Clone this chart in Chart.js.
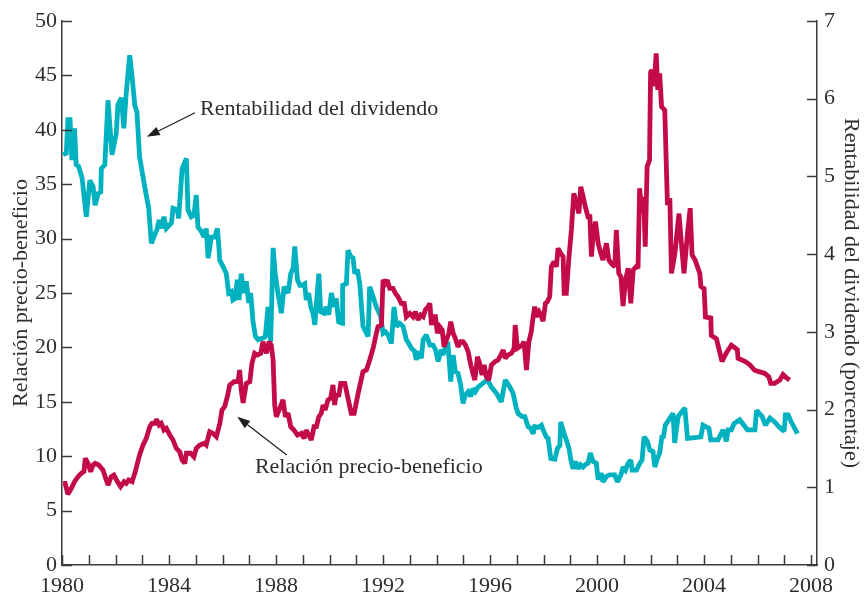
<!DOCTYPE html>
<html>
<head>
<meta charset="utf-8">
<script src="https://cdn.jsdelivr.net/npm/chart.js@4.4.1/dist/chart.umd.min.js"></script>
<style>
  html, body { margin: 0; padding: 0; background: #ffffff; }
  #c { display: block; }
</style>
</head>
<body>
<canvas id="c" width="864" height="593"></canvas>
<script>
// Relación precio-beneficio (left axis)
const peYears = [
  1980.04,1980.12,1980.22,1980.35,1980.47,1980.60,1980.72,1980.82,1980.87,1980.97,
  1981.07,1981.16,1981.24,1981.37,1981.53,1981.72,1981.84,1981.94,1982.07,1982.19,
  1982.32,1982.40,1982.49,1982.62,1982.74,1982.90,1983.03,1983.15,1983.28,1983.36,
  1983.47,1983.53,1983.63,1983.71,1983.81,1983.90,1984.03,1984.15,1984.27,1984.40,
  1984.49,1984.59,1984.65,1984.81,1984.93,1985.02,1985.15,1985.31,1985.39,1985.52,
  1985.64,1985.77,1985.90,1985.98,1986.08,1986.18,1986.27,1986.36,1986.43,1986.58,
  1986.64,1986.70,1986.77,1986.89,1987.02,1987.10,1987.20,1987.30,1987.43,1987.51,
  1987.64,1987.74,1987.82,1987.89,1987.95,1988.01,1988.14,1988.26,1988.35,1988.45,
  1988.55,1988.67,1988.80,1988.95,1989.05,1989.13,1989.22,1989.32,1989.42,1989.51,
  1989.60,1989.69,1989.76,1989.84,1989.94,1990.04,1990.13,1990.19,1990.25,1990.34,
  1990.42,1990.57,1990.69,1990.81,1990.92,1991.07,1991.25,1991.38,1991.50,1991.63,
  1991.75,1991.81,1991.94,1992.00,1992.09,1992.16,1992.25,1992.37,1992.46,1992.56,
  1992.68,1992.79,1992.87,1993.00,1993.12,1993.21,1993.31,1993.41,1993.50,1993.58,
  1993.68,1993.75,1993.81,1993.87,1993.96,1994.03,1994.12,1994.21,1994.28,1994.37,
  1994.46,1994.53,1994.62,1994.70,1994.80,1994.90,1994.99,1995.08,1995.18,1995.28,
  1995.36,1995.43,1995.53,1995.61,1995.70,1995.78,1995.86,1995.95,1996.05,1996.18,
  1996.30,1996.40,1996.49,1996.57,1996.67,1996.80,1996.90,1996.94,1997.02,1997.11,
  1997.20,1997.27,1997.36,1997.45,1997.54,1997.61,1997.67,1997.73,1997.83,1997.90,
  1997.98,1998.07,1998.14,1998.23,1998.29,1998.39,1998.48,1998.54,1998.64,1998.73,
  1998.77,1998.85,1998.94,1999.04,1999.13,1999.23,1999.32,1999.39,1999.48,1999.56,
  1999.66,1999.73,1999.79,1999.85,1999.94,2000.04,2000.14,2000.22,2000.35,2000.44,
  2000.53,2000.66,2000.72,2000.81,2000.89,2000.97,2001.06,2001.16,2001.26,2001.35,
  2001.46,2001.53,2001.59,2001.68,2001.74,2001.80,2001.87,2001.96,2002.00,2002.05,
  2002.13,2002.21,2002.27,2002.34,2002.41,2002.53,2002.63,2002.72,2002.78,2002.91,
  2003.06,2003.15,2003.25,2003.38,2003.48,2003.55,2003.67,2003.84,2003.88,2004.00,
  2004.05,2004.25,2004.27,2004.46,2004.67,2004.83,2005.02,2005.24,2005.27,2005.54,
  2005.71,2005.89,2006.02,2006.27,2006.42,2006.49,2006.64,2006.83,2006.95,2007.08,
  2007.20
];
const peValues = [
  7.5,7.5,6.5,7.05,7.66,8.12,8.43,8.58,9.81,9.35,
  8.58,9.19,9.35,9.19,8.73,7.35,8.12,8.27,7.66,7.2,
  7.66,7.51,7.81,7.66,8.58,10.11,11.03,11.64,12.71,13.02,
  13.02,13.39,12.87,13.02,12.41,12.56,11.95,11.49,10.73,10.41,
  9.65,9.35,10.27,10.27,9.95,10.73,11.03,11.19,11.03,12.25,
  12.1,11.79,13.02,14.25,14.55,15.47,16.54,16.7,16.85,16.85,
  17.92,16.08,14.9,16.7,16.85,18.54,19.46,19.3,19.46,20.52,
  19.46,20.52,20.22,18.84,14.71,13.63,14.4,15.17,13.63,13.94,
  12.71,12.41,11.95,12.1,11.64,12.41,11.95,11.49,12.71,12.71,
  13.63,13.94,14.71,14.25,15.17,15.32,16.54,14.71,15.78,15.47,
  16.7,16.7,15.32,13.94,13.94,15.78,17.77,17.92,18.84,19.92,
  21.3,21.9,22.06,26.2,25.89,26.19,25.43,25.43,24.97,24.66,
  24.05,24.05,22.82,23.13,22.82,23.28,22.52,22.98,22.82,23.44,
  23.74,24.05,22.06,22.82,22.82,21.3,21.9,21.6,20.06,20.68,
  21.3,22.36,21.3,20.84,20.06,20.52,20.52,20.22,19.61,18.38,
  17.62,17.0,19.15,18.54,17.46,18.38,17.31,17.0,18.38,18.69,
  18.84,19.3,19.76,19.0,19.3,19.46,19.92,22.06,19.92,20.06,
  20.22,20.52,17.92,20.52,21.44,22.82,23.74,22.82,23.28,22.98,
  22.4,24.05,24.2,24.66,27.42,27.88,27.42,29.11,28.65,28.34,
  24.97,24.97,28.03,30.79,34.16,33.24,32.32,34.77,33.85,32.93,
  32.01,32.01,28.34,30.18,31.56,29.57,28.65,28.03,29.57,28.03,
  27.73,27.42,30.79,26.81,26.5,23.8,26.19,27.27,24.05,27.11,
  27.42,27.27,34.62,32.32,33.85,29.26,36.61,37.22,45.3,45.5,
  44.0,47.03,43.66,45.19,42.12,41.8,33.1,33.7,26.8,28.65,
  32.3,29.6,26.8,30.5,32.8,28.5,28.0,26.8,25.6,25.4,
  22.8,22.7,21.1,20.8,18.7,19.5,20.2,19.8,19.0,18.7,
  18.4,17.9,17.8,17.6,17.3,16.7,16.7,17.0,17.5,17.2,
  17.0
];

// Rentabilidad del dividendo, % (right axis)
const dyYears = [
  1980.04,1980.16,1980.22,1980.30,1980.37,1980.47,1980.53,1980.62,1980.75,1980.91,
  1981.04,1981.16,1981.24,1981.35,1981.45,1981.47,1981.60,1981.72,1981.87,1982.03,
  1982.09,1982.22,1982.31,1982.40,1982.53,1982.62,1982.72,1982.80,1982.90,1983.09,
  1983.24,1983.34,1983.47,1983.56,1983.63,1983.71,1983.81,1983.90,1984.09,1984.15,
  1984.31,1984.36,1984.49,1984.65,1984.71,1984.83,1984.93,1985.02,1985.08,1985.21,
  1985.31,1985.39,1985.46,1985.58,1985.71,1985.81,1985.90,1986.02,1986.14,1986.23,
  1986.33,1986.39,1986.48,1986.55,1986.62,1986.70,1986.79,1986.89,1986.98,1987.05,
  1987.14,1987.23,1987.33,1987.51,1987.60,1987.70,1987.80,1987.89,1987.97,1988.07,
  1988.20,1988.30,1988.45,1988.55,1988.64,1988.70,1988.80,1988.89,1988.97,1989.07,
  1989.13,1989.22,1989.30,1989.38,1989.45,1989.51,1989.60,1989.67,1989.79,1989.88,
  1989.97,1990.07,1990.17,1990.25,1990.34,1990.47,1990.49,1990.63,1990.69,1990.79,
  1990.88,1990.94,1991.04,1991.13,1991.25,1991.44,1991.50,1991.63,1991.75,1991.91,
  1992.00,1992.09,1992.19,1992.31,1992.41,1992.50,1992.62,1992.75,1992.87,1992.93,
  1993.06,1993.18,1993.24,1993.33,1993.43,1993.50,1993.62,1993.75,1993.87,1993.96,
  1994.06,1994.18,1994.24,1994.33,1994.43,1994.53,1994.62,1994.70,1994.80,1994.90,
  1994.99,1995.08,1995.18,1995.28,1995.36,1995.45,1995.55,1995.67,1995.80,1995.90,
  1996.05,1996.24,1996.42,1996.57,1996.74,1996.86,1996.98,1997.05,1997.20,1997.30,
  1997.42,1997.52,1997.61,1997.67,1997.79,1997.92,1997.98,1998.10,1998.17,1998.27,
  1998.42,1998.52,1998.61,1998.64,1998.77,1998.85,1998.95,1999.02,1999.10,1999.19,
  1999.29,1999.38,1999.48,1999.56,1999.66,1999.75,1999.85,1999.97,2000.04,2000.16,
  2000.22,2000.35,2000.47,2000.66,2000.76,2000.89,2000.97,2001.06,2001.16,2001.26,
  2001.31,2001.47,2001.60,2001.68,2001.76,2001.88,2001.97,2002.09,2002.16,2002.25,
  2002.34,2002.43,2002.47,2002.55,2002.72,2002.84,2002.90,2003.03,2003.28,2003.38,
  2003.65,2003.88,2003.96,2004.18,2004.25,2004.52,2004.71,2004.83,2004.90,2005.02,
  2005.12,2005.33,2005.62,2005.90,2005.96,2006.17,2006.29,2006.46,2006.64,2006.79,
  2006.99,2007.04,2007.14,2007.26,2007.49
];
const dyValues = [
  5.28,5.30,5.73,5.73,5.21,5.62,5.15,5.13,4.98,4.48,
  4.95,4.87,4.63,4.78,4.80,5.10,5.15,5.98,5.28,5.56,
  5.92,6.01,5.62,6.07,6.56,6.28,5.92,5.83,5.25,4.87,
  4.59,4.14,4.25,4.33,4.44,4.33,4.48,4.33,4.40,4.59,
  4.57,4.46,5.10,5.23,4.57,4.48,4.50,4.76,4.35,4.29,
  4.22,4.33,3.95,4.22,4.22,4.33,3.92,3.84,3.75,3.50,
  3.52,3.41,3.43,3.67,3.41,3.75,3.50,3.65,3.37,3.50,
  3.13,2.94,2.90,2.92,2.94,3.32,2.87,4.08,3.75,3.50,
  3.24,3.58,3.50,3.75,3.82,4.10,3.67,3.60,3.60,3.62,
  3.41,3.50,3.32,3.24,3.09,3.37,3.75,3.26,3.24,3.32,
  3.22,3.50,3.32,3.43,3.13,3.11,3.60,3.62,4.05,3.97,
  3.95,3.75,3.80,3.62,3.07,2.94,3.58,3.45,3.32,3.20,
  2.98,3.00,2.96,2.85,3.32,3.07,3.11,3.07,2.90,2.87,
  2.79,2.75,2.64,2.75,2.66,2.90,2.96,2.83,2.83,2.77,
  2.62,2.77,2.70,2.81,2.83,2.36,2.70,2.49,2.47,2.32,
  2.08,2.19,2.23,2.17,2.27,2.23,2.29,2.32,2.36,2.38,
  2.29,2.21,2.10,2.38,2.29,2.21,2.02,1.95,1.91,1.91,
  1.78,1.76,1.69,1.78,1.77,1.80,1.74,1.65,1.63,1.37,
  1.36,1.50,1.54,1.84,1.69,1.61,1.50,1.35,1.24,1.33,
  1.24,1.29,1.26,1.29,1.31,1.44,1.33,1.31,1.10,1.18,
  1.07,1.14,1.16,1.16,1.07,1.16,1.26,1.22,1.31,1.35,
  1.22,1.22,1.31,1.35,1.65,1.59,1.48,1.46,1.26,1.37,
  1.44,1.67,1.63,1.80,1.89,1.95,1.57,1.91,2.02,1.63,
  1.64,1.65,1.80,1.76,1.61,1.61,1.74,1.59,1.74,1.74,
  1.82,1.87,1.74,1.74,1.99,1.91,1.80,1.89,1.84,1.78,
  1.72,1.93,1.93,1.84,1.69
];

// Axis ticks
const xTickYears = [];
for (let y = 1980; y <= 2008; y++) xTickYears.push(y);
const xLabelYears = [1980, 1984, 1988, 1992, 1996, 2000, 2004, 2008];

const RED = '#c30b4b';
const TEAL = '#00b1bf';
const AXIS = '#3b3b3b';
const TEXT = '#2e2e2e';
const FONT = "'Liberation Serif', 'DejaVu Serif', serif";

const pePoints = peYears.map((x, i) => ({ x, y: peValues[i] }));
const dyPoints = dyYears.map((x, i) => ({ x, y: dyValues[i] }));

// Callout labels with arrows, placed in data units of their axis
const callouts = [
  { axis: 'yDY', text: 'Rentabilidad del dividendo', textAt: [1985.16, 5.79], from: [1984.97, 5.82], to: [1983.17, 5.51] },
  { axis: 'yPE', text: 'Relación precio-beneficio', textAt: [1987.21, 8.46], from: [1988.40, 10.11], to: [1986.55, 13.63] }
];

// Keep sharp line corners from overshooting too far
const miterPlugin = {
  id: 'miter',
  beforeDatasetsDraw(chart) { chart.ctx.miterLimit = 2.2; }
};

// Tick marks pointing into the plot area
const inwardTicks = {
  id: 'inwardTicks',
  afterDraw(chart) {
    const { ctx, chartArea: a, scales } = chart;
    const len = 10;
    ctx.save();
    ctx.strokeStyle = AXIS;
    ctx.lineWidth = 1.5;
    ctx.beginPath();
    for (const t of scales.x.ticks) {
      const px = Math.round(scales.x.getPixelForValue(t.value)) + 0.5;
      ctx.moveTo(px, a.bottom);
      ctx.lineTo(px, a.bottom - len);
    }
    for (const t of scales.yPE.ticks) {
      const py = Math.round(scales.yPE.getPixelForValue(t.value)) + 0.5;
      ctx.moveTo(a.left, py);
      ctx.lineTo(a.left + len, py);
    }
    for (const t of scales.yDY.ticks) {
      const py = Math.round(scales.yDY.getPixelForValue(t.value)) + 0.5;
      ctx.moveTo(a.right, py);
      ctx.lineTo(a.right - len, py);
    }
    ctx.stroke();
    ctx.restore();
  }
};

const calloutPlugin = {
  id: 'callouts',
  afterDatasetsDraw(chart) {
    const { ctx, scales } = chart;
    const sx = scales.x;
    ctx.save();
    for (const c of callouts) {
      const sy = scales[c.axis];
      ctx.font = '22px ' + FONT;
      ctx.fillStyle = TEXT;
      ctx.textAlign = 'left';
      ctx.textBaseline = 'alphabetic';
      ctx.fillText(c.text, sx.getPixelForValue(c.textAt[0]), sy.getPixelForValue(c.textAt[1]));

      const x0 = sx.getPixelForValue(c.from[0]), y0 = sy.getPixelForValue(c.from[1]);
      const x1 = sx.getPixelForValue(c.to[0]), y1 = sy.getPixelForValue(c.to[1]);
      const ang = Math.atan2(y1 - y0, x1 - x0);
      const headLen = 13, headW = 4.5;
      const bx = x1 - headLen * Math.cos(ang), by = y1 - headLen * Math.sin(ang);
      ctx.strokeStyle = '#1e1e1e';
      ctx.fillStyle = '#1e1e1e';
      ctx.lineWidth = 1.2;
      ctx.beginPath();
      ctx.moveTo(x0, y0);
      ctx.lineTo(bx, by);
      ctx.stroke();
      ctx.beginPath();
      ctx.moveTo(x1, y1);
      ctx.lineTo(bx + headW * Math.sin(ang), by - headW * Math.cos(ang));
      ctx.lineTo(bx - headW * Math.sin(ang), by + headW * Math.cos(ang));
      ctx.closePath();
      ctx.fill();
    }
    ctx.restore();
  }
};

const tickFont = { family: FONT, size: 22 };

new Chart(document.getElementById('c'), {
  type: 'line',
  data: {
    datasets: [
      {
        label: 'Relación precio-beneficio',
        data: pePoints,
        yAxisID: 'yPE',
        borderColor: RED,
        borderWidth: 4.8,
        pointRadius: 0,
        tension: 0,
        borderJoinStyle: 'miter',
        order: 0
      },
      {
        label: 'Rentabilidad del dividendo',
        data: dyPoints,
        yAxisID: 'yDY',
        borderColor: TEAL,
        borderWidth: 4.8,
        pointRadius: 0,
        tension: 0,
        borderJoinStyle: 'miter',
        order: 1
      }
    ]
  },
  options: {
    responsive: false,
    animation: false,
    devicePixelRatio: 1,
    layout: { padding: { top: 21, left: 0, right: 0, bottom: 0 } },
    plugins: {
      legend: { display: false },
      tooltip: { enabled: false }
    },
    scales: {
      x: {
        type: 'linear',
        min: 1980,
        max: 2008.22,
        afterBuildTicks: s => { s.ticks = xTickYears.map(v => ({ value: v })); },
        afterFit: s => { s.height = 28; },
        grid: { display: false, drawTicks: false },
        border: { display: true, color: AXIS, width: 1.5 },
        ticks: {
          autoSkip: false,
          maxRotation: 0,
          minRotation: 0,
          padding: 8,
          color: TEXT,
          font: tickFont,
          callback: v => (xLabelYears.includes(v) ? String(v) : '')
        }
      },
      yPE: {
        type: 'linear',
        position: 'left',
        min: 0,
        max: 50,
        afterFit: s => { s.width = 62; },
        grid: { display: false, drawTicks: false },
        border: { display: true, color: AXIS, width: 1.5 },
        ticks: { stepSize: 5, padding: 5, color: TEXT, font: tickFont },
        title: {
          display: true,
          text: 'Relación precio-beneficio',
          color: TEXT,
          font: { family: FONT, size: 22 },
          padding: { top: 8, bottom: 0 }
        }
      },
      yDY: {
        type: 'linear',
        position: 'right',
        min: 0,
        max: 7,
        afterFit: s => { s.width = 47; },
        grid: { display: false, drawTicks: false },
        border: { display: true, color: AXIS, width: 1.5 },
        ticks: { stepSize: 1, padding: 7, color: TEXT, font: tickFont },
        title: {
          display: true,
          text: 'Rentabilidad del dividendo (porcentaje)',
          color: TEXT,
          font: { family: FONT, size: 22 },
          padding: { top: 0, bottom: 0 }
        }
      }
    }
  },
  plugins: [miterPlugin, inwardTicks, calloutPlugin]
});
</script>
</body>
</html>
